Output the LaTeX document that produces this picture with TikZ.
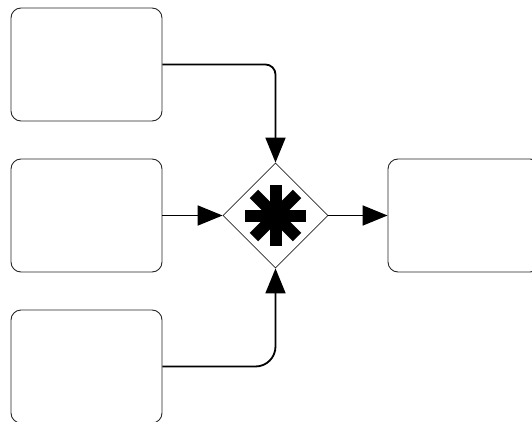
\documentclass[tikz,border=0pt]{standalone}
\usetikzlibrary{arrows.meta,shapes.geometric}
\begin{document}
\begin{tikzpicture}[x=1pt,y=1pt,
  box/.style={draw=black!85, line width=0.9pt, rounded corners=10pt, minimum width=151pt, minimum height=113pt, inner sep=0pt},
  conn/.style={line width=1.8pt, -{Triangle[length=25pt,width=20pt]}},
  gate/.style={diamond, draw=black!85, line width=0.8pt, aspect=1, minimum width=105pt, minimum height=105pt, inner sep=0pt}]
\useasboundingbox (0,0) rectangle (532,421);
\node[box] (top) at (86.5,356.5) {};
\node[box] (mid) at (86.5,205.5) {};
\node[box] (bot) at (86.5,54.5) {};
\node[box, minimum width=152pt] (out) at (464,205.5) {};
\node[gate] (d) at (275.5,205.5) {};
\foreach \a in {0,45,90,135}
  \draw[line width=12pt] ([shift={(\a:30.5)}]d.center) -- ([shift={(\a+180:30.5)}]d.center);
\draw[conn, rounded corners=10pt] (top.east) -| (d.north);
\draw[conn, rounded corners=20pt] (bot.east) -| (d.south);
\draw[conn] (mid.east) -- (d.west);
\draw[conn] (d.east) -- (out.west);
\end{tikzpicture}
\end{document}
